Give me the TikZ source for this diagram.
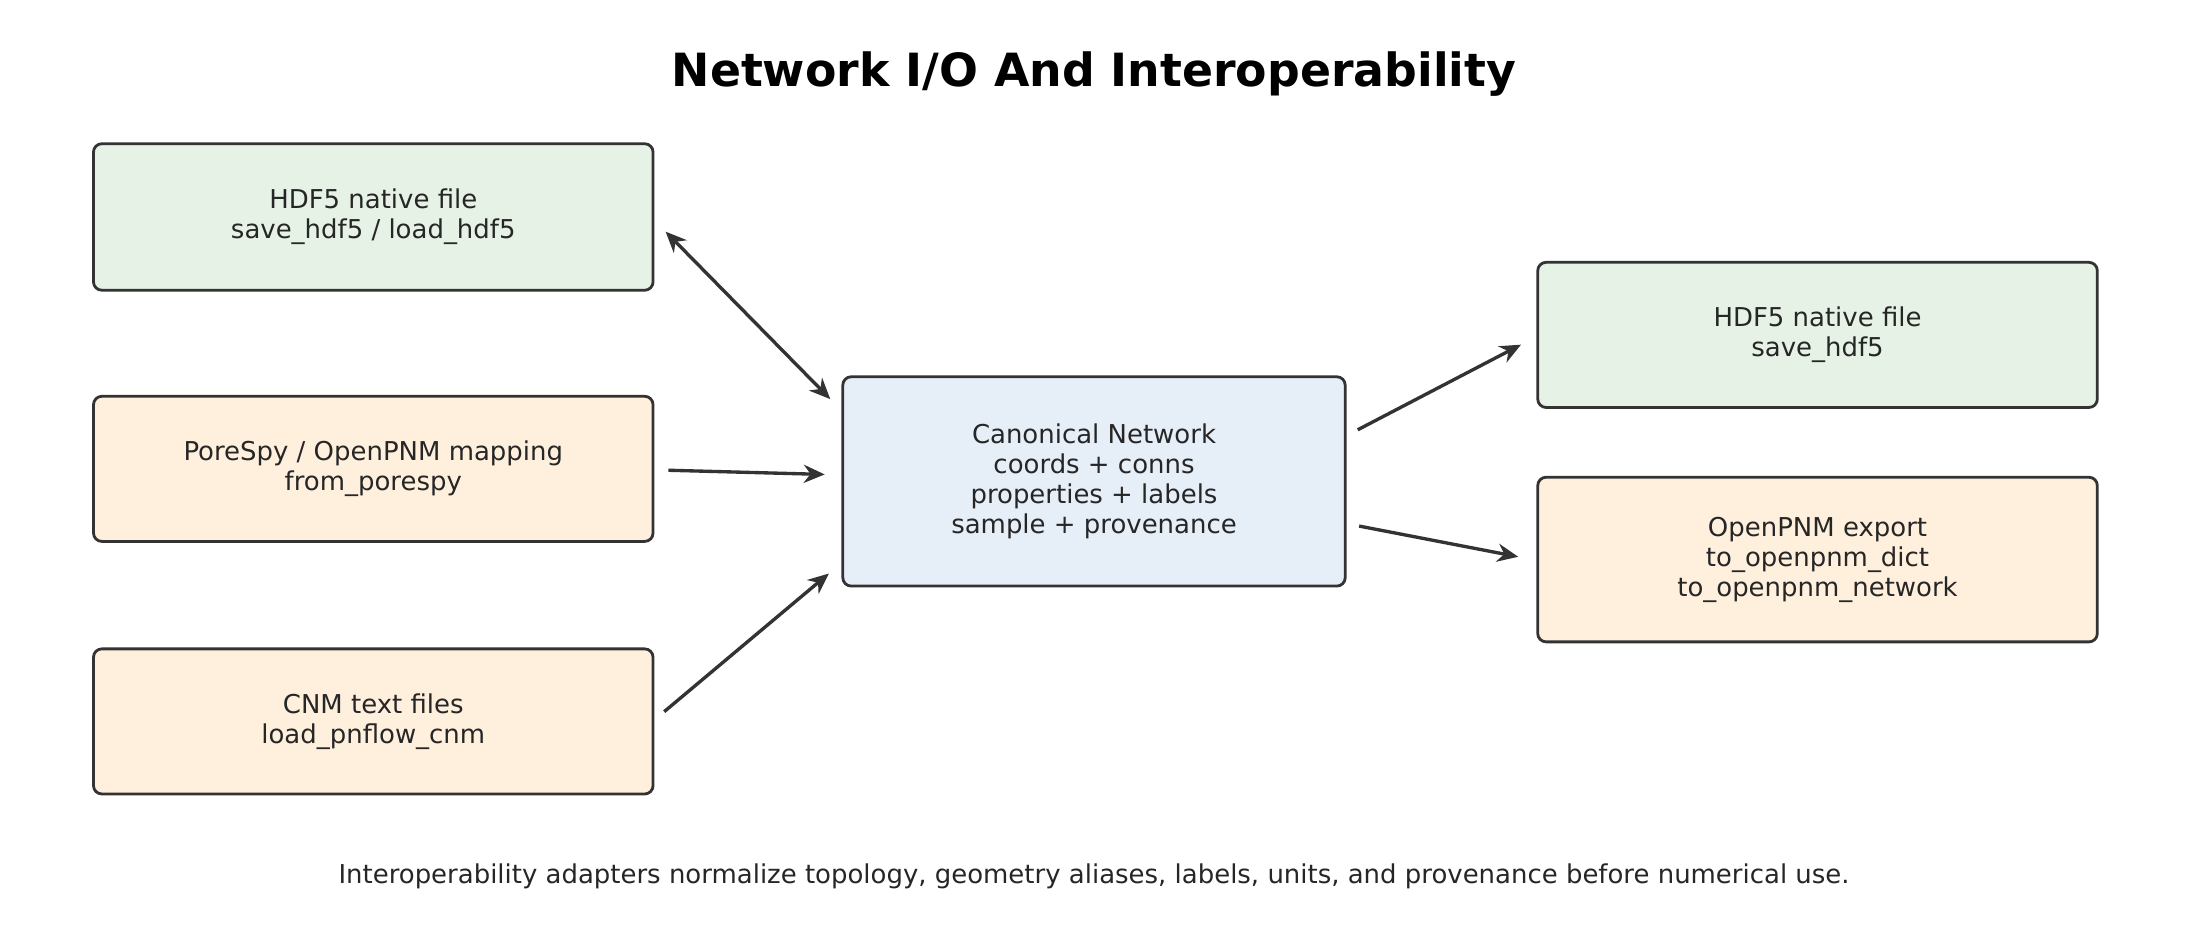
\documentclass[tikz,border=0pt]{standalone}
\usepackage{fontspec}
\setmainfont{DejaVu Sans}
\usetikzlibrary{calc,arrows.meta}
\definecolor{edge}{HTML}{333333}
\definecolor{gfill}{HTML}{E6F2E6}
\definecolor{ofill}{HTML}{FFF0DE}
\definecolor{bfill}{HTML}{E6EEF8}
\tikzset{
  box/.style={draw=edge,line width=2pt,rounded corners=6pt,minimum width=401pt,align=center,font=\fontsize{18.6}{21.5}\selectfont,text=black!85},
  conn/.style={draw=edge,line width=2.4pt,-{Stealth[length=15pt,width=13pt]}},
}
\begin{document}
\begin{tikzpicture}[x=1pt,y=-1pt]
\fill[white] (0,0) rectangle (1568,676);
\node[font=\bfseries\fontsize{32.8}{38}\selectfont] (title) at (784,53) {Network I/O And Interoperability};
\node[box,fill=gfill,minimum height=105pt] (h1) at (267.5,155.5) {HDF5 native file\\save\_hdf5 / load\_hdf5};
\node[box,fill=ofill,minimum height=104pt] (ps) at (267.5,336) {PoreSpy / OpenPNM mapping\\from\_porespy};
\node[box,fill=ofill,minimum height=104pt] (cnm) at (267.5,517) {CNM text files\\load\_pnflow\_cnm};
\node[box,fill=bfill,minimum width=360pt,minimum height=150pt] (c) at (784,345) {Canonical Network\\coords + conns\\properties + labels\\sample + provenance};
\node[box,fill=gfill,minimum height=104pt] (h2) at (1302.5,240) {HDF5 native file\\save\_hdf5};
\node[box,fill=ofill,minimum height=118pt] (op) at (1302.5,401) {OpenPNM export\\to\_openpnm\_dict\\to\_openpnm\_network};
\node[font=\fontsize{18.6}{22}\selectfont,text=black!85] (cap) at (784,628) {Interoperability adapters normalize topology, geometry aliases, labels, units, and provenance before numerical use.};
\draw[conn,{Stealth[length=15pt,width=13pt]}-{Stealth[length=15pt,width=13pt]}] ($(h1.east)+(8,10.5)$) -- ($(c.west)+(-8,-59)$);
\draw[conn] ($(ps.east)+(10,1)$) -- ($(c.west)+(-12,-5)$);
\draw[conn] ($(cnm.east)+(7,-7)$) -- ($(c.west)+(-9,66)$);
\draw[conn] ($(c.east)+(8,-37)$) -- ($(h2.west)+(-11,7)$);
\draw[conn] ($(c.east)+(9,32)$) -- ($(op.west)+(-13,-2)$);
\end{tikzpicture}
\end{document}
